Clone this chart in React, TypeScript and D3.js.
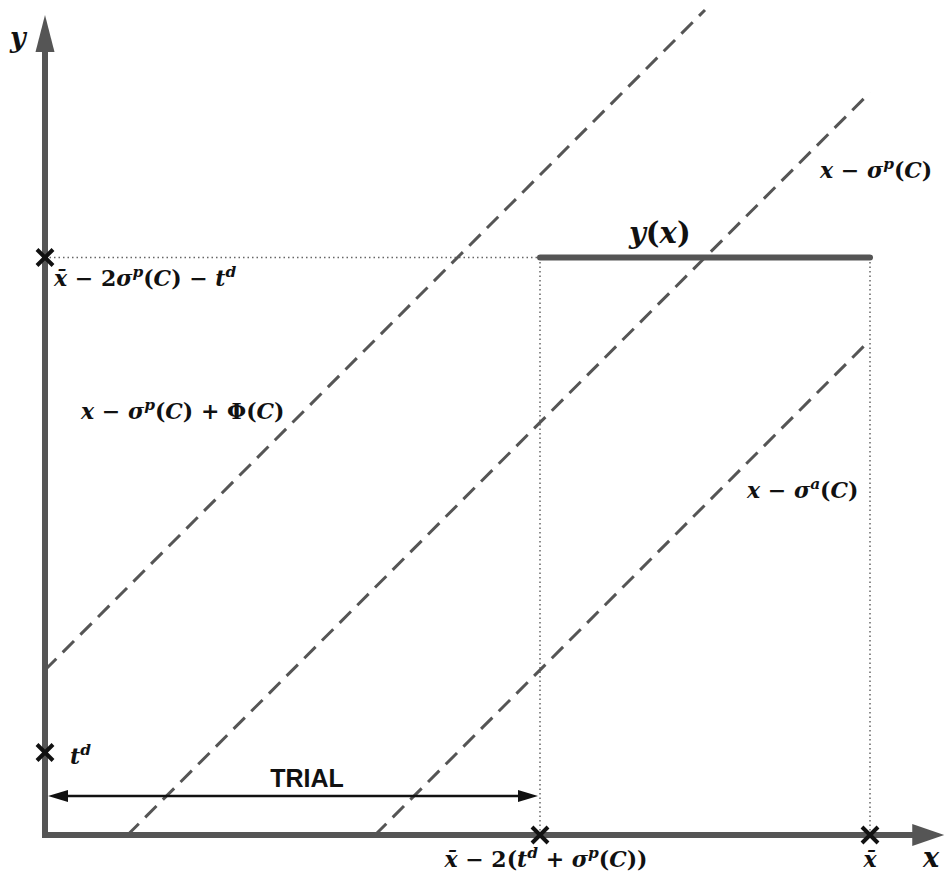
import React from 'react';
import * as d3 from 'd3';

const W = 947;
const H = 872;

// quantities of the sketch, in data units
const xBar = 10;
const tD = 1;
const sigmaP = 1;
const sigmaA = 4;
const phi = 3;

const trialEnd = xBar - 2 * (tD + sigmaP); // x̄ - 2(t^d + σ^p(C))
const yLevel = xBar - 2 * sigmaP - tD; // x̄ - 2σ^p(C) - t^d

// dashed lines y = x + offset, drawn from start to end (x values)
const lineOffsets = [phi - sigmaP, -sigmaP, -sigmaA];
const lineStarts = [0, sigmaP, sigmaA];
const lineEnds = [8, xBar, xBar];

// cross marks on the axes
const xMarks = [trialEnd, xBar];
const yMarks = [tD, yLevel];

// axis extents (arrow tips)
const xAxisMax = 10.9;
const yAxisMax = 9.94;

const mathFont = "'DejaVu Serif', 'Liberation Serif', serif";
const grey = '#555';

type Part = { t: string; it?: boolean; sup?: boolean; bar?: boolean };

// renders a small math expression as tspans
function MathText({ x, y, parts, size = 22, anchor = 'start' }: { x: number; y: number; parts: Part[]; size?: number; anchor?: string }) {
  let shift = 0;
  const spans = parts.map((p, i) => {
    const target = p.sup ? -size * 0.4 : 0;
    const dy = target - shift;
    shift = target;
    return (
      <tspan key={i} dy={dy} fontStyle={p.it ? 'italic' : 'normal'} fontSize={p.sup ? size * 0.7 : size}>
        {p.bar ? p.t + '\u0304' : p.t}
      </tspan>
    );
  });
  return (
    <text x={x} y={y} fontFamily={mathFont} fontWeight="bold" fontSize={size} textAnchor={anchor} fill="#111">
      {spans}
    </text>
  );
}

const sigP: Part[] = [{ t: 'σ', it: true }, { t: 'p', it: true, sup: true }, { t: '(' }, { t: 'C', it: true }, { t: ')' }];

export default function App() {
  const x = d3.scaleLinear().domain([0, 10]).range([45, 870]);
  const y = d3.scaleLinear().domain([0, 10]).range([835, 10]);
  const line = d3
    .line<[number, number]>()
    .x((d) => x(d[0]))
    .y((d) => y(d[1]));

  const x0 = x(0);
  const y0 = y(0);
  const yTip = y(yAxisMax);
  const xTip = x(xAxisMax);
  const trialY = 796;

  return (
    <svg width={W} height={H} style={{ position: 'absolute', left: 0, top: 0, background: '#fff' }}>
      {/* dotted guides */}
      <g stroke="#666" strokeWidth={1.5} strokeDasharray="1.5,3" fill="none">
        <path d={line([[0, yLevel], [trialEnd, yLevel]]) || ''} />
        {xMarks.map((m, i) => (
          <path key={i} d={line([[m, 0], [m, yLevel]]) || ''} />
        ))}
      </g>

      {/* dashed lines */}
      <g stroke={grey} strokeWidth={3} strokeDasharray="16,9" fill="none">
        {lineOffsets.map((o, i) => (
          <path key={i} d={line([[lineStarts[i], lineStarts[i] + o], [lineEnds[i], lineEnds[i] + o]]) || ''} />
        ))}
      </g>

      {/* y(x) */}
      <path d={line([[trialEnd, yLevel], [xBar, yLevel]]) || ''} stroke={grey} strokeWidth={6} strokeLinecap="round" />

      {/* axes */}
      <path d={`M${x0},${y0}L${x0},${yTip + 36}`} stroke={grey} strokeWidth={6} />
      <path d={`M${x0},${yTip}L${x0 - 9.5},${yTip + 37}L${x0 + 9.5},${yTip + 37}Z`} fill={grey} />
      <path d={`M${x0 - 3},${y0}L${xTip - 30},${y0}`} stroke={grey} strokeWidth={6} />
      <path d={`M${xTip},${y0}L${xTip - 32},${y0 - 11}L${xTip - 32},${y0 + 11}Z`} fill={grey} />

      {/* TRIAL arrow */}
      <path d={`M${x0 + 18},${trialY}L${x(trialEnd) - 18},${trialY}`} stroke="#111" strokeWidth={2.5} />
      <path d={`M${x0 + 3},${trialY}L${x0 + 23},${trialY - 6}L${x0 + 23},${trialY + 6}Z`} fill="#111" />
      <path d={`M${x(trialEnd) - 2},${trialY}L${x(trialEnd) - 22},${trialY - 6}L${x(trialEnd) - 22},${trialY + 6}Z`} fill="#111" />
      <text x={307} y={trialY - 9} textAnchor="middle" fontFamily="'Liberation Sans', Arial, sans-serif" fontWeight="bold" fontSize={25} fill="#111">
        TRIAL
      </text>

      {/* cross marks */}
      <g stroke="#111" strokeWidth={4}>
        {xMarks.map((m, i) => (
          <path key={'x' + i} transform={`translate(${x(m)},${y0})`} d="M-8,-8L8,8M8,-8L-8,8" />
        ))}
        {yMarks.map((m, i) => (
          <path key={'y' + i} transform={`translate(${x0},${y(m)})`} d="M-8,-8L8,8M8,-8L-8,8" />
        ))}
      </g>

      {/* labels */}
      <MathText x={10} y={47} size={27} parts={[{ t: 'y', it: true }]} />
      <MathText x={923} y={867} size={27} parts={[{ t: 'x', it: true }]} />
      <MathText x={x(xBar)} y={867} anchor="middle" parts={[{ t: 'x', it: true, bar: true }]} />
      <MathText
        x={546}
        y={867}
        anchor="middle"
        parts={[{ t: 'x', it: true, bar: true }, { t: ' − 2(' }, { t: 't', it: true }, { t: 'd', it: true, sup: true }, { t: ' + ' }, ...sigP, { t: ')' }]}
      />
      <MathText
        x={54}
        y={286}
        parts={[{ t: 'x', it: true, bar: true }, { t: ' − 2' }, ...sigP, { t: ' − ' }, { t: 't', it: true }, { t: 'd', it: true, sup: true }]}
      />
      <MathText x={70} y={764} parts={[{ t: 't', it: true }, { t: 'd', it: true, sup: true }]} />
      <MathText
        x={81}
        y={419}
        parts={[{ t: 'x', it: true }, { t: ' − ' }, ...sigP, { t: ' + Φ(' }, { t: 'C', it: true }, { t: ')' }]}
      />
      <MathText x={820} y={178} parts={[{ t: 'x', it: true }, { t: ' − ' }, ...sigP]} />
      <MathText
        x={747}
        y={498}
        parts={[{ t: 'x', it: true }, { t: ' − ' }, { t: 'σ', it: true }, { t: 'a', it: true, sup: true }, { t: '(' }, { t: 'C', it: true }, { t: ')' }]}
      />
      <MathText x={629} y={243} size={29} parts={[{ t: 'y', it: true }, { t: '(' }, { t: 'x', it: true }, { t: ')' }]} />
    </svg>
  );
}
